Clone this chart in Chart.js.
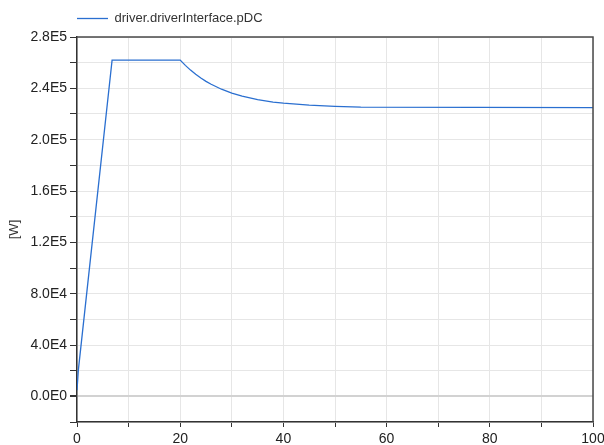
<!DOCTYPE html>
<html>
<head>
<meta charset="utf-8">
<script src="https://cdn.jsdelivr.net/npm/chart.js@4.4.1/dist/chart.umd.min.js"></script>
<style>
html,body{margin:0;padding:0;background:#fff;}
#wrap{width:604px;height:445px;}
</style>
</head>
<body>
<div id="wrap"><canvas id="c" width="604" height="445"></canvas></div>
<script>
// Series
const seriesName = 'driver.driverInterface.pDC';
const timeValues = [0, 0.25, 6.8, 20, 21, 22, 23, 24, 25, 26, 28, 30, 32, 35, 38, 40, 45, 50, 55, 100];
const powerValues = [4700, 20000, 262000, 262000, 257900, 254200, 250900, 248000, 245400, 243200, 239300, 236300, 233900, 231200, 229300, 228400, 226900, 226000, 225300, 225000];
const yAxisTitle = '[W]';
const xRange = [0, 100];
const yRange = [-20000, 280000];

const points = timeValues.map((t, i) => ({x: t, y: powerValues[i]}));

const frame = {
  id: 'frame',
  afterLayout(chart) {
    if (chart.legend) {
      chart.legend.left += 67; chart.legend.right += 67;
      chart.legend.top -= 2; chart.legend.bottom -= 2;
    }
  },
  afterDatasetsDraw(chart) {
    const a = chart.chartArea, ctx = chart.ctx;
    ctx.save();
    ctx.strokeStyle = '#4a4a4a';
    ctx.lineWidth = 1.5;
    ctx.beginPath();
    ctx.moveTo(a.left, a.top);
    ctx.lineTo(a.right, a.top);
    ctx.lineTo(a.right, a.bottom);
    ctx.stroke();
    ctx.restore();
  }
};

new Chart(document.getElementById('c'), {
  type: 'line',
  data: {
    datasets: [{
      label: seriesName,
      data: points,
      borderColor: '#2a6fd0',
      backgroundColor: '#2a6fd0',
      borderWidth: 1.3,
      pointRadius: 0,
      tension: 0,
      fill: false
    }]
  },
  options: {
    responsive: false,
    animation: false,
    layout: {padding: {left: 0, right: 11, top: 4, bottom: 0}},
    plugins: {
      legend: {
        display: true,
        position: 'top',
        align: 'start',
        labels: {
          usePointStyle: true,
          pointStyle: 'line',
          pointStyleWidth: 31,
          boxHeight: 12,
          padding: 10,
          color: '#333',
          font: {family: '"Liberation Sans", Arial, sans-serif', size: 13}
        }
      },
      tooltip: {enabled: false}
    },
    scales: {
      x: {
        type: 'linear',
        min: xRange[0],
        max: xRange[1],
        afterFit(s) { s.height = 23; s.paddingLeft = 0; s.paddingRight = 0; },
        border: {display: true, color: '#333', width: 1.5},
        grid: {color: '#e6e6e6', lineWidth: 1, tickLength: 5, tickColor: '#333', drawTicks: true},
        ticks: {
          stepSize: 10,
          maxRotation: 0,
          autoSkip: false,
          padding: 4,
          color: '#222',
          font: {family: '"Liberation Sans", Arial, sans-serif', size: 14},
          callback: v => (v % 20 === 0 ? String(v) : '')
        }
      },
      y: {
        type: 'linear',
        min: yRange[0],
        max: yRange[1],
        afterFit(s) { s.width = 77; },
        border: {display: true, color: '#333', width: 1.5},
        title: {display: true, text: yAxisTitle, color: '#333', padding: {top: 7, bottom: 0},
          font: {family: '"Liberation Sans", Arial, sans-serif', size: 13}},
        grid: {
          color: c => (c.tick && c.tick.value === 0 ? '#d2d2d2' : '#e6e6e6'),
          lineWidth: c => (c.tick && c.tick.value === 0 ? 2 : 1),
          tickLength: 7, tickColor: '#333'
        },
        ticks: {
          stepSize: 20000,
          autoSkip: false,
          padding: 3,
          color: '#222',
          font: {family: '"Liberation Sans", Arial, sans-serif', size: 14},
          callback: v => (v % 40000 === 0 ? v.toExponential(1).toUpperCase().replace('+', '') : '')
        }
      }
    }
  },
  plugins: [frame]
});
</script>
</body>
</html>
